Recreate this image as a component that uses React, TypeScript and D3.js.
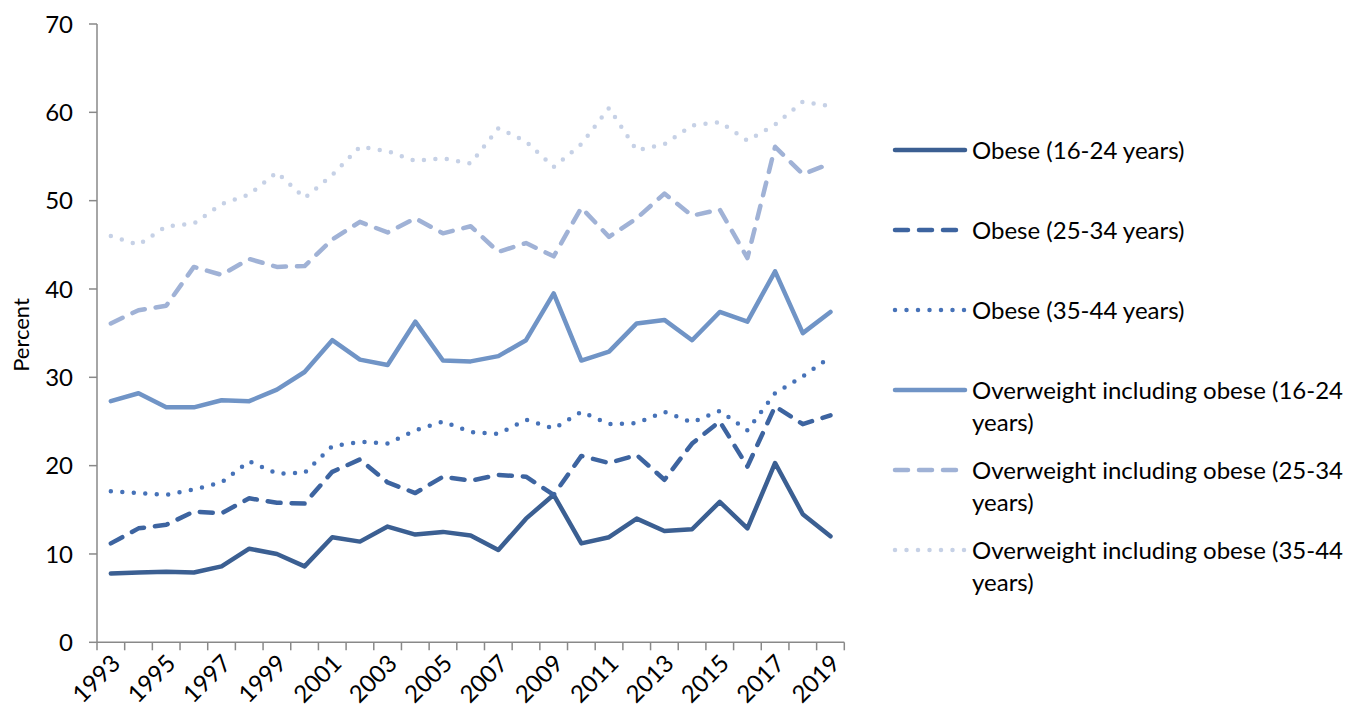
import React from "react";
import * as d3 from "d3";

const years = d3.range(1993, 2020).map(String);

const obese1624 = [7.8, 7.9, 8.0, 7.9, 8.6, 10.6, 10.0, 8.6, 11.9, 11.4, 13.1, 12.2, 12.5, 12.1, 10.45, 14.0, 16.7, 11.2, 11.9, 14.0, 12.6, 12.8, 15.9, 12.9, 20.3, 14.5, 12.0];
const obese2534 = [11.2, 12.9, 13.3, 14.8, 14.6, 16.3, 15.8, 15.7, 19.3, 20.7, 18.1, 16.9, 18.75, 18.3, 18.95, 18.75, 16.7, 21.1, 20.3, 21.2, 18.4, 22.5, 25.0, 19.9, 26.7, 24.7, 25.7];
const obese3544 = [17.1, 16.9, 16.7, 17.3, 18.1, 20.5, 19.1, 19.2, 22.2, 22.7, 22.5, 24.0, 25.0, 23.8, 23.6, 25.2, 24.2, 26.1, 24.7, 24.8, 26.1, 24.9, 26.2, 24.0, 28.2, 30.1, 32.3];
const over1624 = [27.3, 28.2, 26.6, 26.6, 27.4, 27.3, 28.6, 30.6, 34.2, 32.0, 31.4, 36.3, 31.9, 31.8, 32.4, 34.2, 39.5, 31.9, 32.9, 36.1, 36.5, 34.2, 37.4, 36.3, 42.0, 35.0, 37.4];
const over2534 = [36.1, 37.6, 38.1, 42.5, 41.6, 43.4, 42.5, 42.6, 45.6, 47.6, 46.4, 48.0, 46.3, 47.1, 44.2, 45.2, 43.7, 49.2, 45.9, 48.0, 50.8, 48.3, 49.0, 43.5, 56.1, 53.0, 54.2];
const over3544 = [46.0, 45.0, 47.1, 47.4, 49.6, 50.7, 53.2, 50.3, 52.9, 56.1, 55.6, 54.5, 54.8, 54.2, 58.2, 56.7, 53.8, 56.4, 60.5, 55.7, 56.4, 58.5, 58.9, 56.8, 58.6, 61.2, 60.7];

const seriesNames = [
  ["Obese (16-24 years)"],
  ["Obese (25-34 years)"],
  ["Obese (35-44 years)"],
  ["Overweight including obese (16-24", "years)"],
  ["Overweight including obese (25-34", "years)"],
  ["Overweight including obese (35-44", "years)"],
];
const seriesValues = [obese1624, obese2534, obese3544, over1624, over2534, over3544];
const colors = ["#3b5f92", "#3d64a0", "#4672b8", "#7094c6", "#a0b2d6", "#c6d1e6"];
const dashes = ["none", "13 11", "0 11.5", "none", "13 11", "0 11.5"];
const yTicks = [0, 10, 20, 30, 40, 50, 60, 70];

const W = 1351;
const H = 711;
const font = "Lato, 'Open Sans', sans-serif";
const fs = 24;

export default function App() {
  const x = d3.scaleBand<string>().domain(years).range([97, 844.3]);
  const y = d3.scaleLinear().domain([0, 70]).range([642.3, 24]);
  const cx = (d: string) => (x(d) as number) + x.bandwidth() / 2;
  const line = d3
    .line<number>()
    .x((_, i) => cx(years[i]))
    .y((v) => y(v));

  const legendY = [150, 230, 310, 390, 470, 550];

  return (
    <svg width={W} height={H} style={{ position: "absolute", left: 0, top: 0 }} fontFamily={font}>
      <rect width={W} height={H} fill="#fff" />
      {/* y axis */}
      <line x1={97} x2={97} y1={y(70)} y2={y(0)} stroke="#898989" strokeWidth={1.5} />
      {yTicks.map((t) => (
        <g key={t}>
          <line x1={89} x2={97} y1={y(t)} y2={y(t)} stroke="#898989" strokeWidth={1.5} />
          <text x={73} y={y(t)} dy="0.36em" textAnchor="end" fontSize={fs} fill="#000">
            {t}
          </text>
        </g>
      ))}
      <text transform={`translate(29,${335}) rotate(-90)`} textAnchor="middle" fontSize={22} fill="#000">
        Percent
      </text>
      {/* x axis */}
      <line x1={97} x2={844.3} y1={y(0)} y2={y(0)} stroke="#898989" strokeWidth={1.5} />
      {years.concat(["end"]).map((d, i) => {
        const xx = 97 + i * x.bandwidth();
        return <line key={d} x1={xx} x2={xx} y1={y(0)} y2={y(0) + 8} stroke="#898989" strokeWidth={1.5} />;
      })}
      {years
        .filter((_, i) => i % 2 === 0)
        .map((d) => (
          <text
            key={d}
            transform={`translate(${cx(d) + 5},${659}) rotate(-45)`}
            dy="0.35em"
            textAnchor="end"
            fontSize={fs}
            fill="#000"
          >
            {d}
          </text>
        ))}
      {/* series */}
      {seriesValues.map((vals, s) => (
        <path
          key={s}
          d={line(vals) as string}
          fill="none"
          stroke={colors[s]}
          strokeWidth={4.5}
          strokeDasharray={dashes[s]}
          strokeLinecap="round"
          strokeLinejoin="round"
        />
      ))}
      {/* legend */}
      {seriesNames.map((lines, s) => (
        <g key={s}>
          <line
            x1={895}
            x2={965}
            y1={legendY[s]}
            y2={legendY[s]}
            stroke={colors[s]}
            strokeWidth={4.5}
            strokeDasharray={dashes[s]}
            strokeLinecap="round"
          />
          {lines.map((t, k) => (
            <text key={k} x={972} y={legendY[s] + k * 32} dy="0.36em" fontSize={fs} fill="#000">
              {t}
            </text>
          ))}
        </g>
      ))}
    </svg>
  );
}
